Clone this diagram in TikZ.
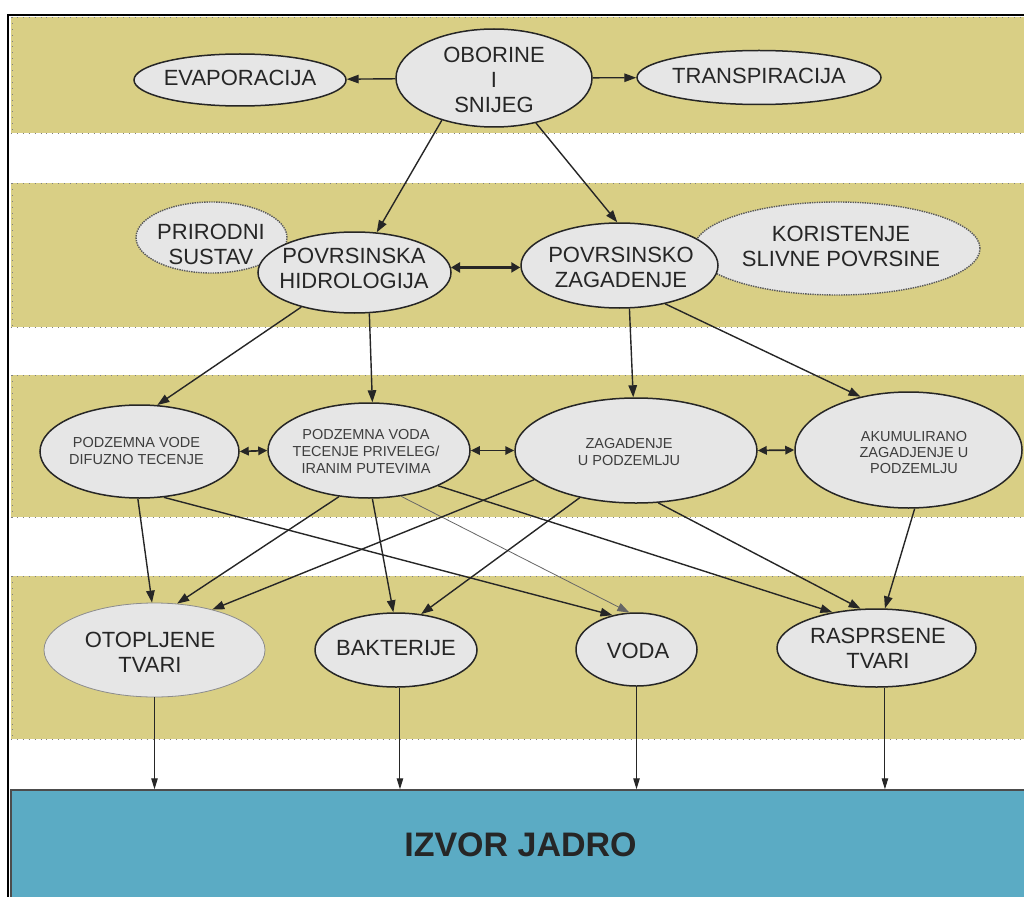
\documentclass[tikz,border=0pt]{standalone}
\usepackage{fontspec}
\setmainfont{Liberation Sans}
\usetikzlibrary{shapes.geometric,arrows.meta}
\definecolor{band}{RGB}{217,207,133}
\definecolor{ellfill}{RGB}{230,230,230}
\definecolor{jadro}{RGB}{91,171,196}
\definecolor{ink}{RGB}{38,38,38}
\definecolor{ink2}{RGB}{62,62,62}
\begin{document}
\begin{tikzpicture}[x=1pt,y=-1pt,
  ell/.style={ellipse, draw=ink, line width=1.5pt, fill=ellfill, inner sep=0pt},
  dotell/.style={ellipse, draw=black!65, densely dotted, line width=1.4pt, fill=ellfill, inner sep=0pt},
  faintell/.style={ellipse, draw=black!45, line width=0.8pt, fill=ellfill, inner sep=0pt},
  bigtxt/.style={align=center, text=ink, font=\fontsize{22}{25}\selectfont, inner sep=0pt},
  smalltxt/.style={align=center, text=ink2, font=\fontsize{14.5}{17}\selectfont, inner sep=0pt},
  bandedge/.style={draw=black!50, line width=0.9pt, dash pattern=on 0.9pt off 5pt},
  arr/.style={draw=ink, line width=1.4pt, -{Triangle[length=12pt,width=8.5pt]}},
  arrthin/.style={draw=black!60, line width=0.8pt, -{Triangle[length=12pt,width=8.5pt]}},
  arrb/.style={draw=ink, line width=1pt, -{Triangle[length=11pt,width=6.5pt]}},
  dbl/.style={draw=ink, line width=1.7pt, {Triangle[length=9pt,width=8.5pt]}-{Triangle[length=9pt,width=8.5pt]}},
  dblthick/.style={draw=ink, line width=2.5pt, {Triangle[length=9pt,width=10pt]}-{Triangle[length=9pt,width=10pt]}}
]
\useasboundingbox (0,0) rectangle (1024,896);
\fill[white] (0,0) rectangle (1024,896);

% bands
\foreach \ya/\yb in {17/133, 183/327, 375/517, 576/739}{
  \fill[band] (11,\ya) rectangle (1030,\yb);
  \draw[bandedge] (11,\ya) -- (1030,\ya);
  \draw[bandedge] (11,\yb) -- (1030,\yb);
  \draw[bandedge] (12,\ya) -- (12,\yb);
}

% frame
\draw[black, line width=2pt] (8,900) -- (8,15) -- (1030,15);

% source box
\node[draw=black!70, line width=1.5pt, fill=jadro, minimum width=1019pt, minimum height=110pt,
      inner sep=0pt, text=ink, font=\bfseries\fontsize{34}{38}\selectfont] (izv) at (520.5,845) {IZVOR JADRO};

% ellipses
\node[ell, minimum width=196pt, minimum height=98pt] (obo) at (494,78) {};
\node[ell, minimum width=212pt, minimum height=52pt] (eva) at (240,80) {};
\node[ell, minimum width=244pt, minimum height=54pt] (tra) at (759,77.5) {};
\node[dotell, minimum width=151pt, minimum height=71pt] (pri) at (211.5,237.5) {};
\node[dotell, minimum width=286pt, minimum height=93pt] (kor) at (837,248.5) {};
\node[ell, minimum width=193pt, minimum height=81pt] (hid) at (354.5,272.5) {};
\node[ell, minimum width=197pt, minimum height=85pt] (zag) at (619.5,265.5) {};
\node[ell, minimum width=199pt, minimum height=93pt] (dif) at (139.5,451.5) {};
\node[ell, minimum width=202pt, minimum height=95pt] (pre) at (369,450.5) {};
\node[ell, minimum width=242pt, minimum height=105pt] (zp) at (636,450.5) {};
\node[ell, minimum width=227pt, minimum height=116pt] (aku) at (908.5,450) {};
\node[faintell, minimum width=221pt, minimum height=94pt] (oto) at (154.5,650) {};
\node[ell, minimum width=162pt, minimum height=74pt] (bak) at (396,650) {};
\node[ell, minimum width=121pt, minimum height=73pt] (vod) at (636.5,649.5) {};
\node[ell, minimum width=199pt, minimum height=78pt] (ras) at (876.5,648) {};

% texts
\node[bigtxt] (obo-t) at (494,80) {OBORINE\\I\\SNIJEG};
\node[bigtxt] (eva-t) at (240,78) {EVAPORACIJA};
\node[bigtxt] (tra-t) at (759,76) {TRANSPIRACIJA};
\node[bigtxt] (pri-t) at (211,244.5) {PRIRODNI\\SUSTAV};
\node[bigtxt] (hid-t) at (354,268.5) {POVRSINSKA\\HIDROLOGIJA};
\node[bigtxt] (zag-t) at (621,267.5) {POVRSINSKO\\ZAGADENJE};
\node[bigtxt] (kor-t) at (841,246) {KORISTENJE\\SLIVNE POVRSINE};
\node[smalltxt] (dif-t) at (136.5,451.5) {PODZEMNA VODE\\DIFUZNO TECENJE};
\node[smalltxt] (pre-t) at (366,452) {PODZEMNA VODA\\TECENJE PRIVELEG/\\IRANIM PUTEVIMA};
\node[smalltxt] (zp-t) at (629,452) {ZAGADENJE\\U PODZEMLJU};
\node[smalltxt, font=\fontsize{14.5}{16}\selectfont] (aku-t) at (914,453) {AKUMULIRANO\\ZAGADJENJE U\\PODZEMLJU};
\node[bigtxt] (oto-t) at (150,652.5) {OTOPLJENE\\TVARI};
\node[bigtxt] (bak-t) at (396,648) {BAKTERIJE};
\node[bigtxt] (vod-t) at (638,651) {VODA};
\node[bigtxt] (ras-t) at (878,648.5) {RASPRSENE\\TVARI};

% connectors, top
\draw[arr] (obo) -- (eva);
\draw[arr] (obo) -- (tra);
\draw[arr] (obo.219) -- (hid.61);
\draw[arr] (obo.313) -- (zag.93);
\draw[dblthick] (hid.3) -- (hid.3 -| zag.west);

% to row 3
\draw[arr] (hid.213) -- (dif.69);
\draw[arr] (hid.290) -- (pre.86);
\draw[arr] (zag.283) -- (zp.93);
\draw[arr] (zag.320) -- (aku.132);

% row 3 links
\draw[dbl] (dif.east) -- (pre.west);
\draw[dbl] (pre.east) -- (zp.west);
\draw[dbl] (zp.east) -- (aku.west);

% to row 4
\draw[arr] (dif.268) -- (oto.93);
\draw[arr] (dif.298) -- (vod.125);
\draw[arr] (pre.237) -- (oto.64);
\draw[arr] (pre.274) -- (bak.94);
\draw[arrthin] (pre.305) -- (vod.101);
\draw[arr] (pre.333) -- (ras.141);
\draw[arr] (zp.196) -- (oto.35);
\draw[arr] (zp.220) -- (bak.55);
\draw[arr] (zp.293) -- (ras.112);
\draw[arr] (aku.276) -- (ras.78);

% to source
\draw[arrb] (oto.south) -- (oto.south |- izv.north);
\draw[arrb] (bak.276) -- (bak.276 |- izv.north);
\draw[arrb] (vod.south) -- (vod.south |- izv.north);
\draw[arrb] (ras.282) -- (ras.282 |- izv.north);
\end{tikzpicture}
\end{document}
